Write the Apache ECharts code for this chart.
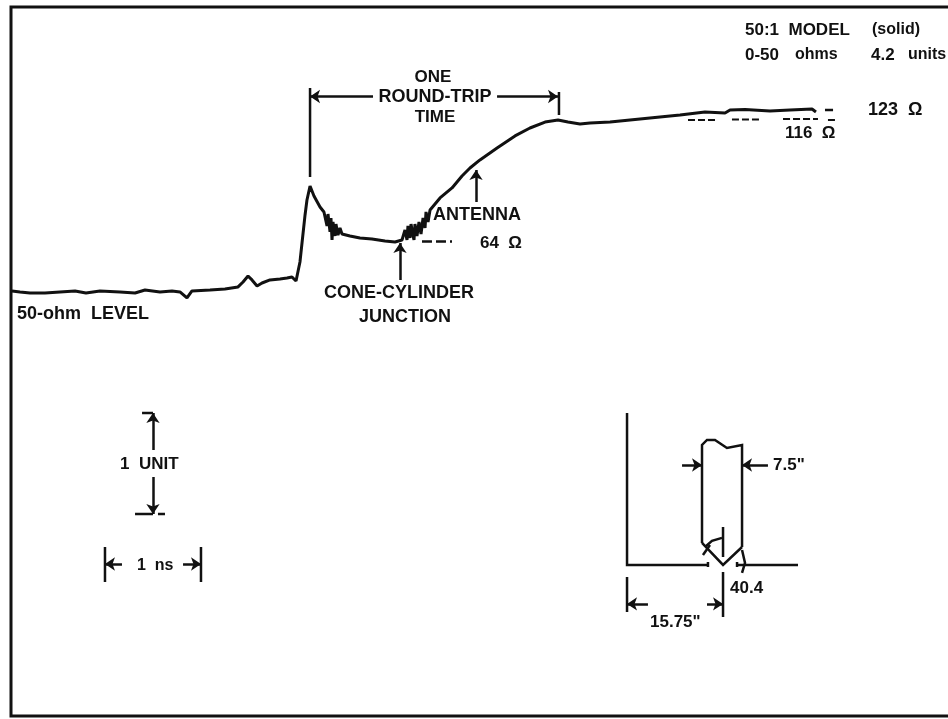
<!DOCTYPE html>
<html lang="en">
<head>
    <meta charset="UTF-8">
    <title>Antenna TDR trace</title>
    <script src="https://cdn.jsdelivr.net/npm/echarts@6/dist/echarts.min.js"></script>
    <style>
        html, body { margin: 0; padding: 0; background: #fff; }
    </style>
</head>
<body>
<div id="main" style="width: 948px; height: 719px;"></div>

<script>
    // trace: time in ns, level in units above the 50-ohm line
    var traceTime = [0.010, 0.094, 0.198, 0.354, 0.510, 0.667, 0.781, 0.927, 1.135, 1.292, 1.396, 1.552, 1.677, 1.760, 1.833, 1.885,
        2.073, 2.229, 2.365, 2.417, 2.469, 2.510, 2.563, 2.615, 2.698, 2.802, 2.875, 2.927, 2.969, 3.010, 3.063, 3.083, 3.115,
        3.156, 3.219, 3.260, 3.292, 3.302, 3.323, 3.333, 3.344, 3.354, 3.375, 3.385, 3.406, 3.427, 3.448,
        3.531, 3.635, 3.760, 3.896, 4.000, 4.073, 4.104, 4.125, 4.135, 4.156, 4.167, 4.188, 4.198, 4.208, 4.229, 4.250, 4.271,
        4.292, 4.313, 4.323, 4.344, 4.365, 4.469, 4.594, 4.698, 4.781, 4.885, 5.063, 5.250, 5.406, 5.563, 5.698, 5.802, 5.927, 6.031,
        6.240, 6.448, 6.760, 6.969, 7.229, 7.438, 7.490, 7.646, 7.906, 8.115, 8.344, 8.385];
    var traceLevel = [0.010, 0.000, -0.010, -0.010, 0.000, 0.010, -0.010, 0.010, 0.000, -0.010, 0.019, 0.000, 0.010, 0.000, -0.058, 0.010,
        0.019, 0.029, 0.049, 0.097, 0.155, 0.117, 0.058, 0.087, 0.117, 0.126, 0.136, 0.146, 0.107, 0.291, 0.748, 0.893, 1.029,
        0.932, 0.825, 0.777, 0.641, 0.757, 0.583, 0.718, 0.505, 0.680, 0.544, 0.660, 0.553, 0.621, 0.563,
        0.544, 0.524, 0.515, 0.495, 0.485, 0.505, 0.602, 0.505, 0.641, 0.524, 0.660, 0.544, 0.505, 0.660, 0.544, 0.680, 0.563,
        0.718, 0.621, 0.777, 0.680, 0.796, 0.913, 1.010, 1.126, 1.204, 1.282, 1.398, 1.515, 1.592, 1.650, 1.670, 1.650, 1.631, 1.641,
        1.650, 1.670, 1.699, 1.718, 1.748, 1.738, 1.767, 1.772, 1.757, 1.767, 1.777, 1.748];

    // broken 116 ohm level, null marks the gaps
    var dashTime = [7.052, 7.354, null, 7.510, 7.802, null, 8.042, 8.406, null, 8.510, 8.583];
    var dashLevel = [1.670, 1.670, null, 1.675, 1.675, null, 1.680, 1.680, null, 1.670, 1.670];

    // annotations in the same ns / unit coordinates
    var plainLines = [
        [[3.115, 1.981], [3.115, 1.117]],
        [[5.708, 1.942], [5.708, 1.718]],
        [[8.479, 1.767], [8.563, 1.767]],
        [[1.365, -1.175], [1.479, -1.175]],
        [[1.292, -2.155], [1.479, -2.155]],
        [[1.531, -2.155], [1.604, -2.155]],
        [[0.979, -2.476], [0.979, -2.816]],
        [[1.979, -2.476], [1.979, -2.816]],
        // antenna sketch
        [[6.417, -1.175], [6.417, -2.650], [7.260, -2.650]],
        [[7.563, -2.650], [8.198, -2.650]],
        [[7.198, -2.437], [7.198, -1.485], [7.250, -1.437], [7.333, -1.437], [7.458, -1.515], [7.615, -1.485], [7.615, -2.476]],
        [[7.198, -2.437], [7.417, -2.650], [7.615, -2.476]],
        [[7.417, -2.282], [7.417, -2.573]],
        [[7.229, -2.476], [7.302, -2.417], [7.406, -2.388]],
        [[7.208, -2.553], [7.281, -2.456]],
        [[7.615, -2.505], [7.646, -2.631], [7.615, -2.728]],
        [[7.260, -2.621], [7.260, -2.670]],
        [[7.563, -2.621], [7.563, -2.670]],
        [[6.417, -2.767], [6.417, -3.107]],
        [[7.417, -2.718], [7.417, -3.155]]
    ];
    var arrowLines = [
        [[3.771, 1.898], [3.115, 1.898]],
        [[5.063, 1.898], [5.698, 1.898]],
        [[4.844, 0.874], [4.844, 1.184]],
        [[4.052, 0.117], [4.052, 0.476]],
        [[1.479, -1.534], [1.479, -1.175]],
        [[1.479, -1.796], [1.479, -2.155]],
        [[1.156, -2.641], [0.979, -2.641]],
        [[1.792, -2.641], [1.979, -2.641]],
        [[6.990, -1.680], [7.198, -1.680]],
        [[7.885, -1.680], [7.615, -1.680]],
        [[6.635, -3.029], [6.417, -3.029]],
        [[7.250, -3.029], [7.417, -3.029]]
    ];
    var dashedLines = [
        [[4.281, 0.495], [4.594, 0.495]]
    ];

    var labelTexts = ['ONE', 'ROUND-TRIP', 'TIME', 'ANTENNA', '64  Ω', 'CONE-CYLINDER', 'JUNCTION',
        '50:1  MODEL', '(solid)', '0-50', 'ohms', '4.2', 'units', '123  Ω', '116  Ω', '50-ohm  LEVEL',
        '1  UNIT', '1  ns', '7.5"', '40.4', '15.75"'];
    // anchor x, middle y, alignment and size for each label above
    var labelPlaces = [
        [433, 77, 'center', 17], [435, 97, 'center', 18], [435, 117, 'center', 17], [433, 215, 'left', 18], [480, 243, 'left', 17],
        [399, 293, 'center', 18], [405, 317, 'center', 18],
        [745, 30, 'left', 17], [872, 30, 'left', 16], [745, 55, 'left', 17], [795, 55, 'left', 16], [871, 55, 'left', 17], [908, 55, 'left', 16],
        [868, 110, 'left', 18], [785, 133, 'left', 17], [17, 314, 'left', 18],
        [120, 464, 'left', 17], [137, 566, 'left', 16], [773, 465, 'left', 17], [730, 588, 'left', 17], [650, 622, 'left', 17]
    ];

    var ink = '#111111';
    var myChart = echarts.init(document.getElementById('main'));

    function zip(xs, ys) {
        return xs.map(function (x, i) { return x === null ? [null, null] : [x, ys[i]]; });
    }

    function asLines(list) {
        return list.map(function (coords) { return {coords: coords}; });
    }

    var option = {
        animation: false,
        backgroundColor: '#ffffff',
        // right edge hangs off the page, the scan has no right border
        grid: {
            left: 11, top: 7, width: 942, height: 709,
            outerBoundsMode: 'none',
            show: true, borderColor: ink, borderWidth: 3, backgroundColor: 'transparent'
        },
        xAxis: {type: 'value', min: 0, max: 9.8125, show: false},
        yAxis: {type: 'value', min: -4.117, max: 2.767, show: false},
        series: [
            {
                type: 'line',
                data: zip(traceTime, traceLevel),
                showSymbol: false,
                lineStyle: {color: ink, width: 3},
                z: 3
            },
            {
                type: 'line',
                data: zip(dashTime, dashLevel),
                connectNulls: false,
                showSymbol: false,
                lineStyle: {color: ink, width: 2, type: [7, 3]}
            },
            {
                type: 'lines',
                coordinateSystem: 'cartesian2d',
                polyline: true,
                symbol: 'none',
                data: asLines(plainLines),
                lineStyle: {color: ink, width: 2.5, opacity: 1, curveness: 0}
            },
            {
                type: 'lines',
                coordinateSystem: 'cartesian2d',
                symbol: ['none', 'arrow'],
                symbolSize: 10,
                data: asLines(arrowLines),
                lineStyle: {color: ink, width: 2.5, opacity: 1, curveness: 0}
            },
            {
                type: 'lines',
                coordinateSystem: 'cartesian2d',
                symbol: 'none',
                data: asLines(dashedLines),
                lineStyle: {color: ink, width: 2.5, opacity: 1, type: [10, 4], curveness: 0}
            }
        ],
        graphic: labelTexts.map(function (text, i) {
            var p = labelPlaces[i];
            return {
                type: 'text',
                x: p[0],
                y: p[1],
                z: 10,
                style: {
                    text: text,
                    fill: ink,
                    font: 'bold ' + p[3] + 'px "Liberation Sans", Arial, sans-serif',
                    textAlign: p[2],
                    textVerticalAlign: 'middle'
                }
            };
        })
    };

    myChart.setOption(option);
</script>
</body>
</html>
